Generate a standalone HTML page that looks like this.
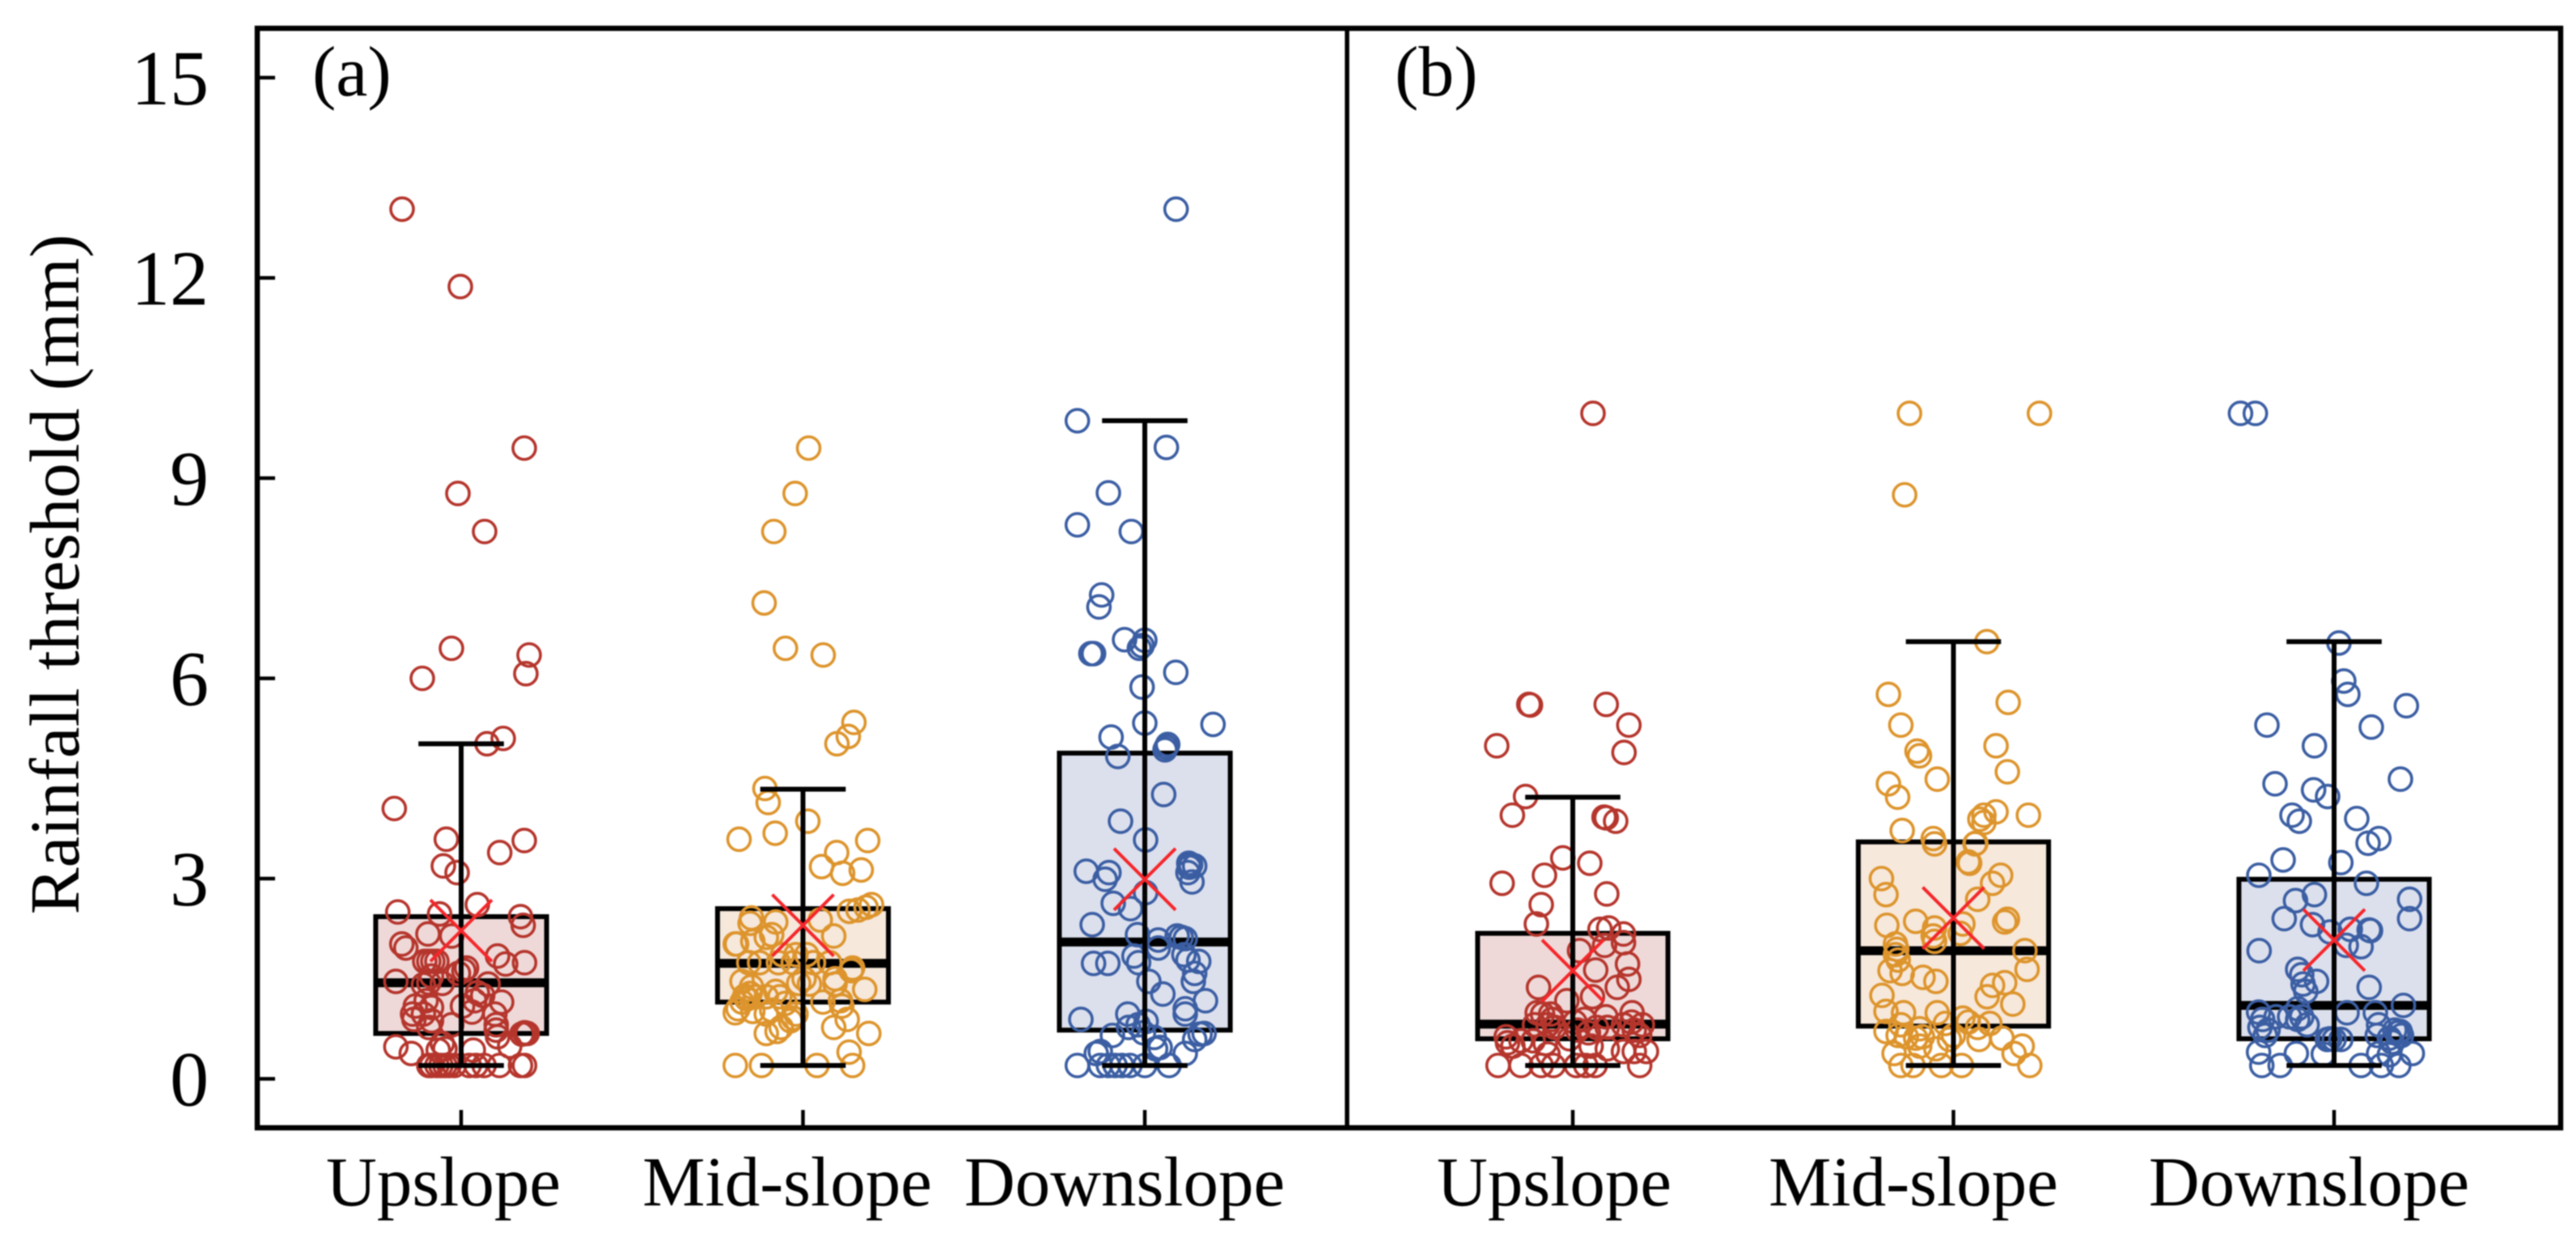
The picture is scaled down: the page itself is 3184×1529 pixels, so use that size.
<!DOCTYPE html>
<html lang="en">
<head>
<meta charset="utf-8">
<title>Rainfall threshold by slope position</title>
<style>
html,body{margin:0;padding:0;background:#fff;}
svg{display:block;filter:blur(0.7px);}
text{font-family:"Liberation Serif",serif;fill:#000;}
</style>
</head>
<body>
<svg id="chart" xmlns="http://www.w3.org/2000/svg" width="3184" height="1529" viewBox="0 0 3184 1529">
  <rect x="0" y="0" width="3184" height="1529" fill="#ffffff"/>
  <g id="plot-layer"></g>
  <g id="axis-layer"></g>
  <text transform="translate(97,710) rotate(-90)" text-anchor="middle" font-size="87">Rainfall threshold (mm)</text>
  <text x="386" y="118" font-size="88">(a)</text>
  <text x="1724" y="118" font-size="88">(b)</text>
  <text x="548" y="1490" text-anchor="middle" font-size="87">Upslope</text>
  <text x="973" y="1490" text-anchor="middle" font-size="87">Mid-slope</text>
  <text x="1390" y="1490" text-anchor="middle" font-size="87">Downslope</text>
  <text x="1921" y="1490" text-anchor="middle" font-size="87">Upslope</text>
  <text x="2365" y="1490" text-anchor="middle" font-size="87">Mid-slope</text>
  <text x="2854" y="1490" text-anchor="middle" font-size="87">Downslope</text>
</svg>
<script>
const yTickValues = [0, 3, 6, 9, 12, 15];
const categories = ["upslope", "midslope", "downslope"];

// Box statistics (mm), one entry per category.
const panelAQ1 = [0.68, 1.15, 0.73];
const panelAMedian = [1.44, 1.73, 2.05];
const panelAQ3 = [2.43, 2.55, 4.88];
const panelAWhiskerLow = [0.2, 0.2, 0.2];
const panelAWhiskerHigh = [5.02, 4.34, 9.86];
const panelAMean = [2.22, 2.30, 2.99];

const panelBQ1 = [0.60, 0.79, 0.60];
const panelBMedian = [0.82, 1.92, 1.10];
const panelBQ3 = [2.18, 3.55, 2.99];
const panelBWhiskerLow = [0.2, 0.2, 0.2];
const panelBWhiskerHigh = [4.22, 6.55, 6.55];
const panelBMean = [1.62, 2.41, 2.08];

// Scatter points: [horizontal jitter, rainfall threshold in mm]
const panelAUpslopePoints = [
[-219,13.03],[-3,11.87],[234,9.45],[-12,8.77],[87,8.2],[-36,6.45],[252,6.35],[240,6.07],[-144,6.0],[156,5.1],[96,5.02],[-248,4.05],
[-55,3.59],[234,3.57],[143,3.39],[-66,3.19],[-15,3.09],
[-235,2.5],[-123,2.17],[-220,2.02],[-205,1.96],[-80,2.47],[-35,2.14],[60,2.61],[220,2.43],[230,2.3],[135,1.84],[165,1.72],[235,1.74],[-242,1.46],
[-135,1.76],[-120,1.76],[-105,1.76],[-90,1.76],[10,1.62],[-10,1.58],[-120,1.44],[-140,1.41],[-70,1.43],[60,1.29],[80,1.25],[50,1.17],[150,1.15],[5,1.09],
[-170,1.09],[-180,0.97],[-175,0.89],[-130,1.17],[-110,1.07],[-110,0.87],[-140,0.97],[-120,0.77],[40,1.0],[-35,0.81],[125,0.97],[130,0.81],[135,0.63],[130,0.73],
[235,0.69],[225,0.67],[245,0.68],[180,0.49],[-242,0.48],[-185,0.38],[-60,0.45],[-85,0.43],[45,0.43],[-70,0.53],[235,0.2],[220,0.2],[142,0.2],
[-120,0.2],[-110,0.2],[-90,0.2],[-75,0.2],[-60,0.2],[-45,0.2],[-25,0.2],[30,0.2],[55,0.2],[85,0.2],[-110,1.54],[20,1.66],[100,1.42]
];
const panelAMidslopePoints = [
[21,9.45],[-29,8.77],[-108,8.2],[-144,7.13],[-65,6.45],[75,6.35],[189,5.34],[168,5.13],[126,5.02],
[-141,4.35],[-129,4.14],[18,3.86],[-237,3.59],[-103,3.68],[240,3.57],[125,3.39],[69,3.18],[147,3.08],[216,3.13],
[172,2.51],[204,2.53],[234,2.57],[254,2.61],[114,2.14],[-101,2.35],[-191,2.41],[-196,2.33],[-116,2.16],[64,2.38],
[-246,2.02],[-251,2.02],[-186,2.06],[-136,2.12],[-26,1.86],[-76,1.86],[14,1.86],[-201,1.74],[-161,1.74],[-91,1.74],[-36,1.74],[39,1.74],[99,1.74],[184,1.66],[179,1.62],
[-226,1.46],[-191,1.38],[-101,1.31],[4,1.5],[-16,1.43],[24,1.42],[119,1.42],[229,1.34],[119,1.5],
[-216,1.24],[-206,1.2],[-226,1.15],[-196,1.28],[-210,1.2],[-176,1.23],[-136,1.23],[-86,1.23],[-66,1.13],[74,1.15],[139,1.17],[144,1.09],
[-251,0.99],[-241,1.05],[-186,1.01],[-136,0.97],[-116,1.03],[-26,0.97],[-36,0.91],[-46,0.87],[164,0.89],[114,0.77],[-81,0.77],[-96,0.71],[-136,0.68],[244,0.68],[171,0.4],
[-251,0.2],[-154,0.2],[52,0.2],[184,0.2]
];
const panelADownslopePoints = [
[116,13.03],[-250,9.86],[80,9.46],[-135,8.78],[-250,8.3],[-50,8.2],[-160,7.25],[-170,7.07],[-75,6.58],[0,6.57],[-10,6.49],[-20,6.45],[-200,6.37],[-190,6.37],[115,6.09],[-10,5.87],
[0,5.33],[253,5.31],[-125,5.12],[-100,4.83],[85,5.01],[80,4.97],[75,4.93],[70,4.26],[-90,3.86],[3,3.58],
[-217,3.11],[-133,3.09],[-147,2.99],[163,3.23],[170,3.21],[165,3.17],[185,3.19],[160,3.09],[175,2.95],[3,2.79],[-117,2.63],[-53,2.55],[-195,2.31],
[-27,2.16],[120,2.14],[135,2.12],[150,2.1],[50,2.08],[50,1.96],[-190,1.73],[-137,1.73],[-40,1.84],[-23,1.74],[145,1.86],[200,1.76],[160,1.78],[185,1.58],[180,1.46],[15,1.46],[67,1.27],
[225,1.17],[150,1.05],[150,0.97],[-63,0.97],[-237,0.89],[5,0.86],[-60,0.77],[-25,0.81],[-120,0.65],[-5,0.69],[220,0.68],[205,0.67],[185,0.59],[35,0.62],[57,0.47],[40,0.45],[-165,0.41],[-180,0.38],[150,0.38],
[-250,0.2],[-165,0.2],[-135,0.2],[-110,0.2],[-85,0.2],[-55,0.2],[0,0.2],[90,0.2]
];
const panelBUpslopePoints = [
[75,9.97],[-163,5.61],[-157,5.6],[124,5.61],[208,5.3],[190,4.89],[-282,4.99],[-175,4.23],[-224,3.95],[116,3.92],[124,3.91],[159,3.86],
[-37,3.31],[63,3.23],[-105,3.05],[126,2.77],[-262,2.93],[-117,2.61],[-135,2.32],[101,2.24],[133,2.26],[188,2.17],[188,2.04],[118,2.0],[25,1.92],[203,1.72],[85,1.63],[208,1.49],[165,1.37],[-127,1.37],[73,1.23],[-22,1.17],
[220,0.99],[123,0.93],[-132,0.99],[-112,0.97],[-82,0.97],[-77,0.89],[-92,0.81],[-67,0.77],[-142,0.81],[8,0.85],[43,0.89],[188,0.81],[218,0.85],[258,0.81],[228,0.73],[248,0.65],[88,0.77],[128,0.77],[18,0.73],[58,0.69],
[-247,0.63],[-242,0.54],[-222,0.49],[-192,0.57],[-147,0.57],[-102,0.53],[-92,0.37],[-12,0.6],[68,0.49],[128,0.45],[188,0.41],[228,0.41],[273,0.41],
[-277,0.2],[-192,0.2],[-117,0.2],[-72,0.2],[13,0.2],[48,0.2],[83,0.2],[248,0.2]
];
const panelBMidslopePoints = [
[-163,9.97],[319,9.97],[-181,8.75],[124,6.55],[-241,5.76],[-195,5.3],[-135,4.91],[-126,4.84],[-60,4.49],[-241,4.42],[-207,4.22],[-190,3.72],[-75,3.6],
[203,5.64],[158,4.99],[200,4.6],[278,3.95],[158,4.0],[113,3.95],[98,3.89],[113,3.84],[83,3.53],
[-70,3.52],[80,3.52],[55,3.25],[60,3.23],[175,3.05],[145,2.93],[90,2.69],[-267,3.0],[-250,2.76],[-247,2.3],[-140,2.36],[-70,2.26],[-75,2.14],[-70,2.06],[35,2.32],[25,2.18],
[200,2.39],[190,2.35],[-215,2.02],[-210,1.94],[265,1.92],[-215,1.86],[-205,1.78],[273,1.64],[-235,1.62],[-190,1.58],[-113,1.52],[-65,1.46],[190,1.44],[145,1.4],[125,1.23],[220,1.12],[-265,1.25],[-250,1.01],
[-185,0.99],[-60,0.99],[-195,0.81],[-125,0.75],[-30,0.83],[35,0.91],[55,0.85],[90,0.77],[135,0.83],[-250,0.71],[-205,0.65],[-175,0.63],[-140,0.61],[-115,0.63],[0,0.65],[-15,0.59],[95,0.59],[180,0.61],
[-220,0.38],[-125,0.49],[-65,0.45],[255,0.49],[225,0.38],[-195,0.2],[-150,0.2],[-45,0.2],[30,0.2],[283,0.2]
];
const panelBDownslopePoints = [
[-347,9.97],[-292,9.97],[18,6.53],[36,5.96],[51,5.76],[268,5.59],[138,5.27],[-73,4.99],[-249,5.3],[246,4.49],[-219,4.42],[-76,4.33],[-24,4.23],[84,3.9],[-156,3.95],[-129,3.86],[166,3.6],[126,3.53],[-189,3.28],[25,3.24],[-279,3.05],
[120,2.93],[-73,2.76],[-143,2.67],[280,2.69],[280,2.4],[-185,2.4],[-80,2.31],[-15,2.2],[60,2.24],[130,2.23],[135,2.22],[45,2.0],[100,1.98],[-278,1.92],[-135,1.64],[-120,1.56],[-65,1.46],[130,1.37],[-115,1.42],[-105,1.31],
[257,1.1],[-280,1.0],[48,0.99],[153,0.99],[-135,1.05],[-215,0.93],[-265,0.89],[-275,0.77],[-245,0.73],[-120,0.93],[-135,0.89],[-100,0.81],[-165,0.93],[-255,0.65],
[165,0.81],[160,0.65],[225,0.73],[235,0.69],[245,0.71],[250,0.65],[205,0.61],[215,0.55],[-25,0.59],[0,0.59],[25,0.59],[-15,0.6],[-40,0.37],[-140,0.38],[-280,0.4],[290,0.38],[165,0.38],[205,0.36],
[-268,0.2],[-200,0.2],[100,0.2],[175,0.2],[240,0.2]
];

const NS = "http://www.w3.org/2000/svg";
const plotLayer = document.getElementById("plot-layer");
const axisLayer = document.getElementById("axis-layer");

function yScale(v) { return 1333.5 - 82.5 * v; }
function xScale(panel, index, jitter) {
  return panel.first + panel.spacing * (index + (jitter || 0) / panel.jitterUnits);
}
function add(parent, tag, attrs) {
  const el = document.createElementNS(NS, tag);
  for (const k in attrs) el.setAttribute(k, attrs[k]);
  parent.appendChild(el);
  return el;
}

const colours = [
  { stroke: "#b5352c", fill: "#eed9d8" },
  { stroke: "#dd942c", fill: "#f6e8db" },
  { stroke: "#3b5ea3", fill: "#dce0ed" }
];
const panels = [
  { id: "a", first: 570, spacing: 422.5, jitterUnits: 1267.5,
    q1: panelAQ1, median: panelAMedian, q3: panelAQ3, low: panelAWhiskerLow, high: panelAWhiskerHigh, mean: panelAMean,
    points: [panelAUpslopePoints, panelAMidslopePoints, panelADownslopePoints] },
  { id: "b", first: 1944, spacing: 470.5, jitterUnits: 1411.5,
    q1: panelBQ1, median: panelBMedian, q3: panelBQ3, low: panelBWhiskerLow, high: panelBWhiskerHigh, mean: panelBMean,
    points: [panelBUpslopePoints, panelBMidslopePoints, panelBDownslopePoints] }
];

panels.forEach(function (panel) {
  categories.forEach(function (category, i) {
    const key = category + "-" + panel.id;
    const cx = xScale(panel, i, 0);
    const boxHalf = panel.spacing * 0.25;
    const capHalf = panel.spacing * 0.125;
    const c = colours[i];

    const group = add(plotLayer, "g", {});
    
    

    const box = add(group, "rect", {
      x: cx - boxHalf, y: yScale(panel.q3[i]), width: boxHalf * 2,
      height: yScale(panel.q1[i]) - yScale(panel.q3[i]),
      fill: c.fill, stroke: "#000", "stroke-width": 6
    });
    
    

    const med = add(group, "line", {
      x1: cx - boxHalf, x2: cx + boxHalf, y1: yScale(panel.median[i]), y2: yScale(panel.median[i]),
      stroke: "#000", "stroke-width": 11
    });
    
    

    panel.points[i].forEach(function (p) {
      const dot = add(group, "circle", {
        cx: xScale(panel, i, p[0]), cy: yScale(p[1]), r: 14,
        fill: "none", stroke: c.stroke, "stroke-width": 3.6
      });
      
      
    });

    const whisker = add(group, "line", {
      x1: cx, x2: cx, y1: yScale(panel.high[i]), y2: yScale(panel.low[i]),
      stroke: "#000", "stroke-width": 6
    });
    
    

    [panel.high[i], panel.low[i]].forEach(function (v) {
      const cap = add(group, "line", {
        x1: cx - capHalf, x2: cx + capHalf, y1: yScale(v), y2: yScale(v),
        stroke: "#000", "stroke-width": 6
      });
      
      
    });

    const my = yScale(panel.mean[i]);
    const mean = add(group, "path", {
      d: "M" + (cx - 38) + " " + (my - 38) + "L" + (cx + 38) + " " + (my + 38) +
         "M" + (cx - 38) + " " + (my + 38) + "L" + (cx + 38) + " " + (my - 38),
      fill: "none", stroke: "#f5262a", "stroke-width": 4
    });
    
    

    const tick = add(axisLayer, "line", {
      x1: cx, x2: cx, y1: 1372, y2: 1394, stroke: "#000", "stroke-width": 4.5
    });
    
    
  });
});

yTickValues.forEach(function (v) {
  const y = yScale(v);
  const tick = add(axisLayer, "line", { x1: 318, x2: 340, y1: y, y2: y, stroke: "#000", "stroke-width": 4.5 });
  
  
  const label = add(axisLayer, "text", { x: 258, y: y + 33, "text-anchor": "end", "font-size": 96 });
  label.textContent = String(v);
  
  
});

const frame = add(axisLayer, "rect", { x: 318, y: 35, width: 2847, height: 1359, fill: "none", stroke: "#000", "stroke-width": 6.5 });


const divider = add(axisLayer, "line", { x1: 1665, x2: 1665, y1: 35, y2: 1394, stroke: "#000", "stroke-width": 5.5 });


</script>
</body>
</html>
